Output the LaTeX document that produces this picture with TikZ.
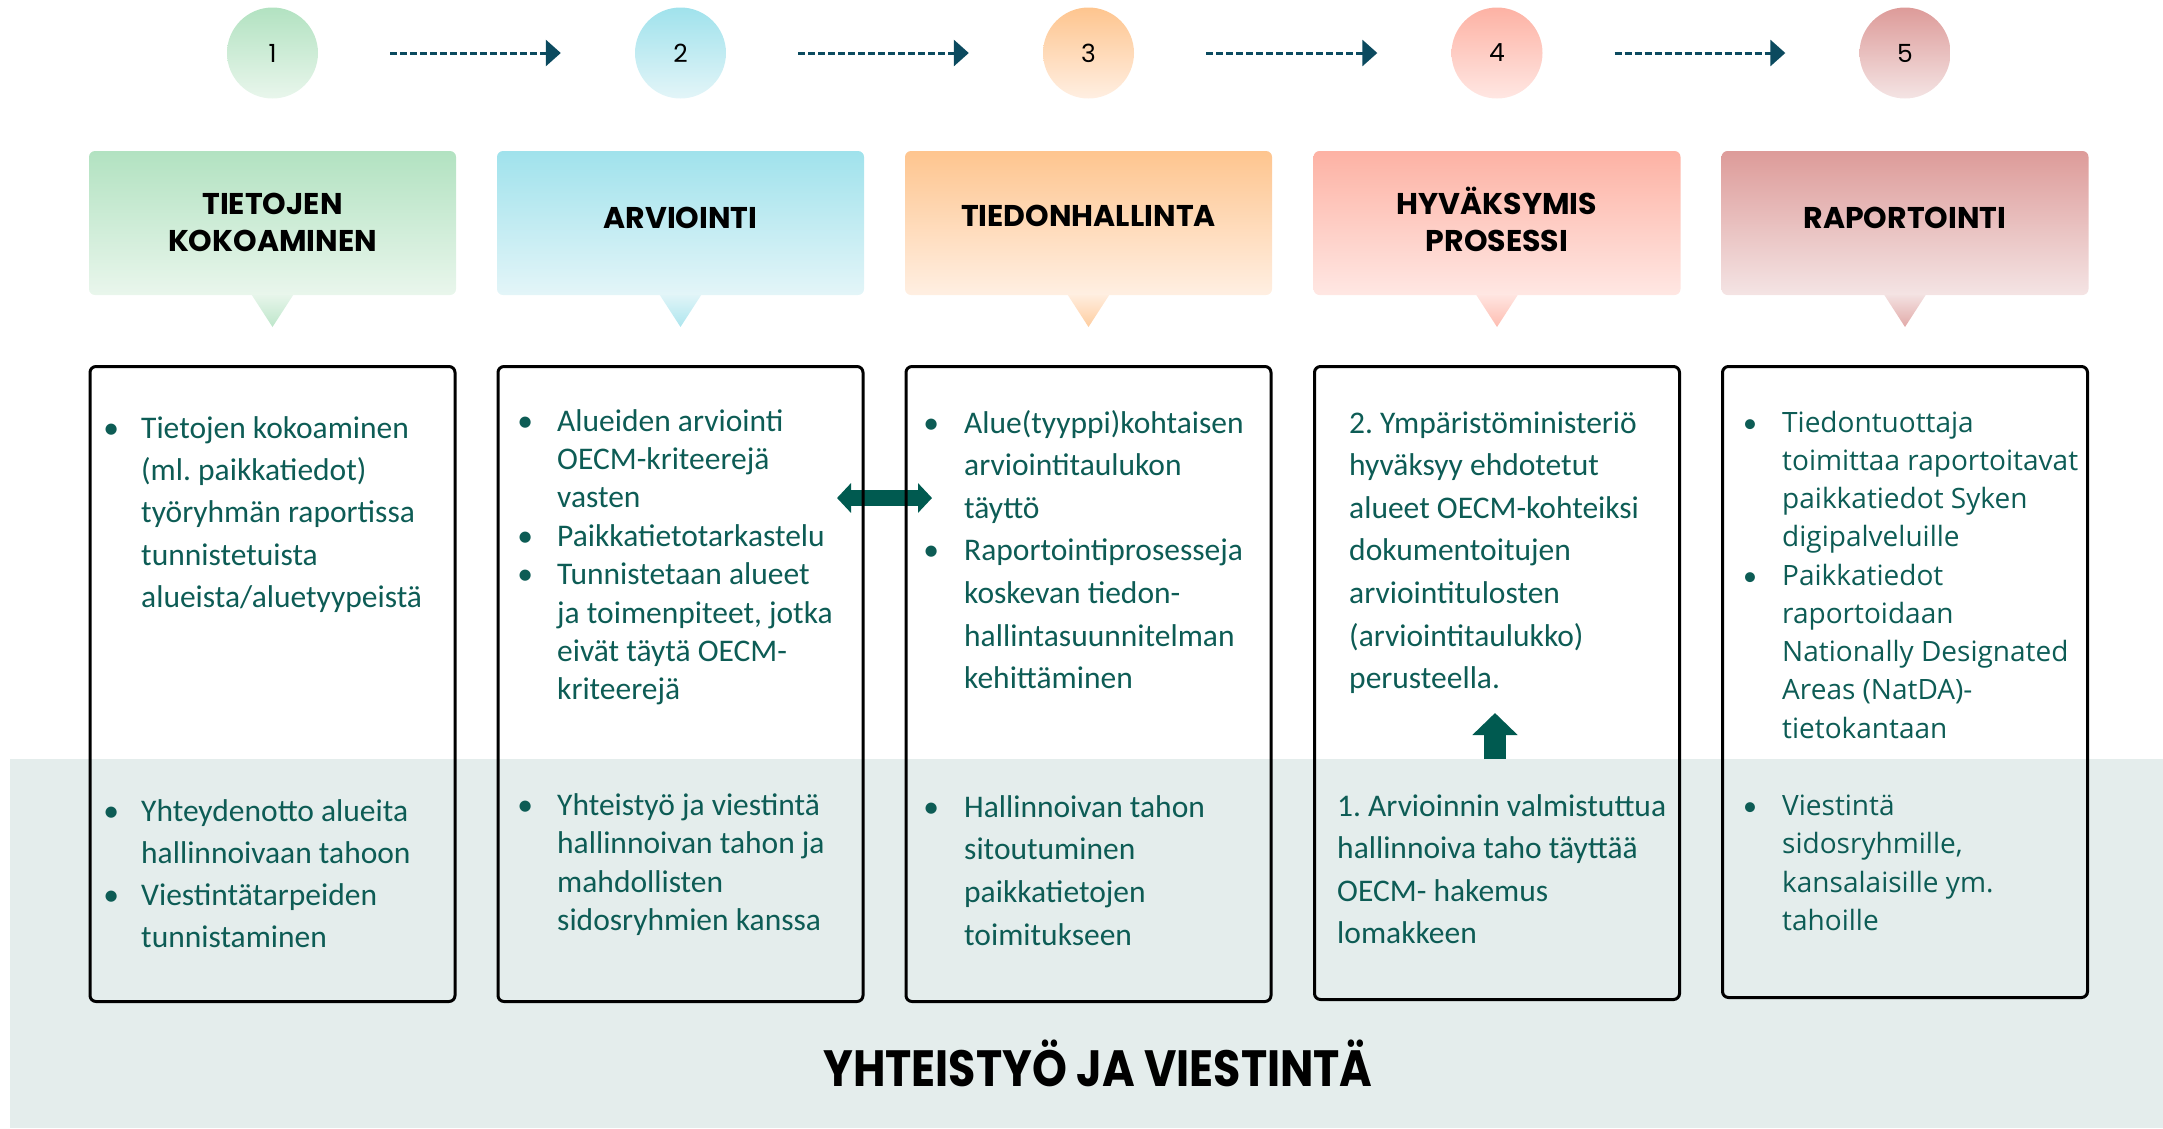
\documentclass[tikz,border=0pt]{standalone}
\usepackage{fontspec}
\setmainfont{Carlito}
\newfontfamily\bodyfont{Carlito}
\newfontfamily\boxfivefont{Open Sans}
\newfontfamily\headfont{Poppins}
\newfontfamily\bandfont{Poppins}[FakeStretch=0.87]
\usetikzlibrary{arrows.meta}
\definecolor{txt}{RGB}{13,92,85}
\definecolor{arrowdark}{RGB}{0,90,80}
\definecolor{dashcol}{RGB}{11,74,95}
\definecolor{bandcol}{RGB}{228,237,236}
\definecolor{gAt}{RGB}{178,226,193}\definecolor{gAb}{RGB}{233,246,236}
\definecolor{gBt}{RGB}{160,226,236}\definecolor{gBb}{RGB}{227,245,248}
\definecolor{gCt}{RGB}{254,197,143}\definecolor{gCb}{RGB}{255,239,226}
\definecolor{gDt}{RGB}{253,178,164}\definecolor{gDb}{RGB}{255,231,227}
\definecolor{gEt}{RGB}{221,155,153}\definecolor{gEb}{RGB}{244,228,228}
\newcommand\bl[1]{\par\noindent\hangindent=#1\hangafter=1\makebox[#1][l]{\makebox[0pt]{\bodyfont •}}}
\newcommand\tb[1]{\parbox[t]{430pt}{\frenchspacing\parindent=0pt\parskip=0pt\let\\\newline #1}}
\tikzset{
  numcircle/.style={circle, minimum size=91pt, inner sep=0pt, font=\headfont\fontsize{25}{25}\selectfont, text=black},
  headbox/.style={rectangle, rounded corners=6pt, minimum width=367pt, minimum height=144pt, inner sep=0pt},
  headtext/.style={anchor=base, inner sep=0pt, text width=360pt, align=center, text=black, font=\headfont\bfseries\fontsize{30}{37}\selectfont},
  contentbox/.style={draw=black, line width=3pt, rounded corners=6pt, minimum width=365pt, inner sep=0pt, anchor=north},
  body/.style={anchor=base west, inner sep=0pt, text=txt, font=\bodyfont\fontsize{31.5}{#1}\selectfont},
  bodyfive/.style={anchor=base west, inner sep=0pt, text=txt, font=\boxfivefont\fontsize{28}{#1}\selectfont},
  dasharrow/.style={draw=dashcol, line width=3pt, dash pattern=on 7pt off 3pt, -{Triangle[length=15pt,width=26pt]}, shorten <=72pt, shorten >=74pt},
  blockarrow/.style={draw=arrowdark, line width=#1},
}
\begin{document}
\begin{tikzpicture}[x=1pt,y=-1pt]
\useasboundingbox (0,0) rectangle (2163,1128);
% band
\fill[bandcol] (10,759) rectangle (2163,1128);

% circles
\node[numcircle, top color=gAt, bottom color=gAb] (n1) at (272.5,53) {1};
\node[numcircle, top color=gBt, bottom color=gBb] (n2) at (680.5,53) {2};
\node[numcircle, top color=gCt, bottom color=gCb] (n3) at (1088.5,53) {3};
\node[numcircle, top color=gDt, bottom color=gDb] (n4) at (1497,53) {4};
\node[numcircle, top color=gEt, bottom color=gEb] (n5) at (1905,53) {5};
\draw[dasharrow] (n1) -- (n2);
\draw[dasharrow] (n2) -- (n3);
\draw[dasharrow] (n3) -- (n4);
\draw[dasharrow] (n4) -- (n5);

% header pointers
\shade[top color=gAb, bottom color=gAt!80!gAb] (250.5,293) -- (294.5,293) -- (272.5,327) -- cycle;
\shade[top color=gBb, bottom color=gBt!80!gBb] (658.5,293) -- (702.5,293) -- (680.5,327) -- cycle;
\shade[top color=gCb, bottom color=gCt!80!gCb] (1066.5,293) -- (1110.5,293) -- (1088.5,327) -- cycle;
\shade[top color=gDb, bottom color=gDt!80!gDb] (1475,293) -- (1519,293) -- (1497,327) -- cycle;
\shade[top color=gEb, bottom color=gEt!80!gEb] (1883,293) -- (1927,293) -- (1905,327) -- cycle;

% header boxes
\node[headbox, top color=gAt, bottom color=gAb] (h1) at (272.5,223) {};
\node[headbox, top color=gBt, bottom color=gBb] (h2) at (680.5,223) {};
\node[headbox, top color=gCt, bottom color=gCb] (h3) at (1088.5,223) {};
\node[headbox, top color=gDt, bottom color=gDb] (h4) at (1497,223) {};
\node[headbox, top color=gEt, bottom color=gEb] (h5) at (1905,223) {};
\node[headtext] (ht1) at (272.5,214) {TIETOJEN\\KOKOAMINEN};
\node[headtext] (ht2) at (680.5,228) {ARVIOINTI};
\node[headtext] (ht3) at (1088.5,226) {TIEDONHALLINTA};
\node[headtext] (ht4) at (1497,214) {HYVÄKSYMIS\\PROSESSI};
\node[headtext] (ht5) at (1905,228) {RAPORTOINTI};

% block arrows
\coordinate (dl) at (837,498);
\coordinate (dr) at (932,498);
\draw[blockarrow=16pt, {Triangle[length=14pt,width=29pt]}-{Triangle[length=14pt,width=29pt]}] (dl) -- (dr);
\coordinate (ub) at (1495,759);
\coordinate (ut) at (1495,713);
\draw[blockarrow=22pt, -{Triangle[length=22pt,width=44pt]}] (ub) -- (ut);

% content boxes
\node[contentbox, minimum height=635pt] (b1) at (272.5,365) {};
\node[contentbox, minimum height=635pt] (b2) at (680.5,365) {};
\node[contentbox, minimum height=635pt] (b3) at (1088.5,365) {};
\node[contentbox, minimum height=633pt] (b4) at (1497,365) {};
\node[contentbox, minimum height=631pt] (b5) at (1905,365) {};

% texts
\node[body=42.4] (t1a) at (111,438) {\tb{\bl{30pt}Tietojen kokoaminen\\(ml. paikkatiedot)\\työryhmän raportissa\\tunnistetuista\\alueista/aluetyypeistä}};
\node[body=42.2] (t1b) at (111,821) {\tb{\bl{30pt}Yhteydenotto alueita\\hallinnoivaan tahoon\bl{30pt}Viestintätarpeiden\\tunnistaminen}};

\node[body=38.4] (t2a) at (525,431) {\tb{\bl{32pt}Alueiden arviointi\\OECM-kriteerejä\\vasten\bl{32pt}Paikkatietotarkastelu\bl{32pt}Tunnistetaan alueet\\ja toimenpiteet, jotka\\eivät täytä OECM-\\kriteerejä}};
\node[body=38.6] (t2b) at (525,815) {\tb{\bl{32pt}Yhteistyö ja viestintä\\hallinnoivan tahon ja\\mahdollisten\\sidosryhmien kanssa}};

\node[body=42.6] (t3a) at (931,433) {\tb{\bl{33pt}Alue(tyyppi)kohtaisen\\arviointitaulukon\\täyttö\bl{33pt}Raportointiprosesseja\\koskevan tiedon-\\hallintasuunnitelman\\kehittäminen}};
\node[body=42.8] (t3b) at (931,817) {\tb{\bl{33pt}Hallinnoivan tahon\\sitoutuminen\\paikkatietojen\\toimitukseen}};

\node[body=42.6] (t4a) at (1349,433) {\tb{2. Ympäristöministeriö\\hyväksyy ehdotetut\\alueet OECM-kohteiksi\\dokumentoitujen\\arviointitulosten\\(arviointitaulukko)\\perusteella.}};
\node[body=42.5] (t4b) at (1337,816) {\tb{1. Arvioinnin valmistuttua\\hallinnoiva taho täyttää\\OECM- hakemus\\lomakkeen}};

\node[bodyfive=38.25] (t5a) at (1750,432) {\tb{\bl{32pt}Tiedontuottaja\\toimittaa raportoitavat\\paikkatiedot Syken\\digipalveluille\bl{32pt}Paikkatiedot\\raportoidaan\\Nationally Designated\\Areas (NatDA)-\\tietokantaan}};
\node[bodyfive=38.6] (t5b) at (1750,815) {\tb{\bl{32pt}Viestintä\\sidosryhmille,\\kansalaisille ym.\\tahoille}};

% band title
\node[anchor=base, inner sep=0pt, font=\bandfont\bfseries\fontsize{51}{51}\selectfont, text=black] (bt) at (1098,1086) {YHTEISTYÖ JA VIESTINTÄ};
\end{tikzpicture}
\end{document}
